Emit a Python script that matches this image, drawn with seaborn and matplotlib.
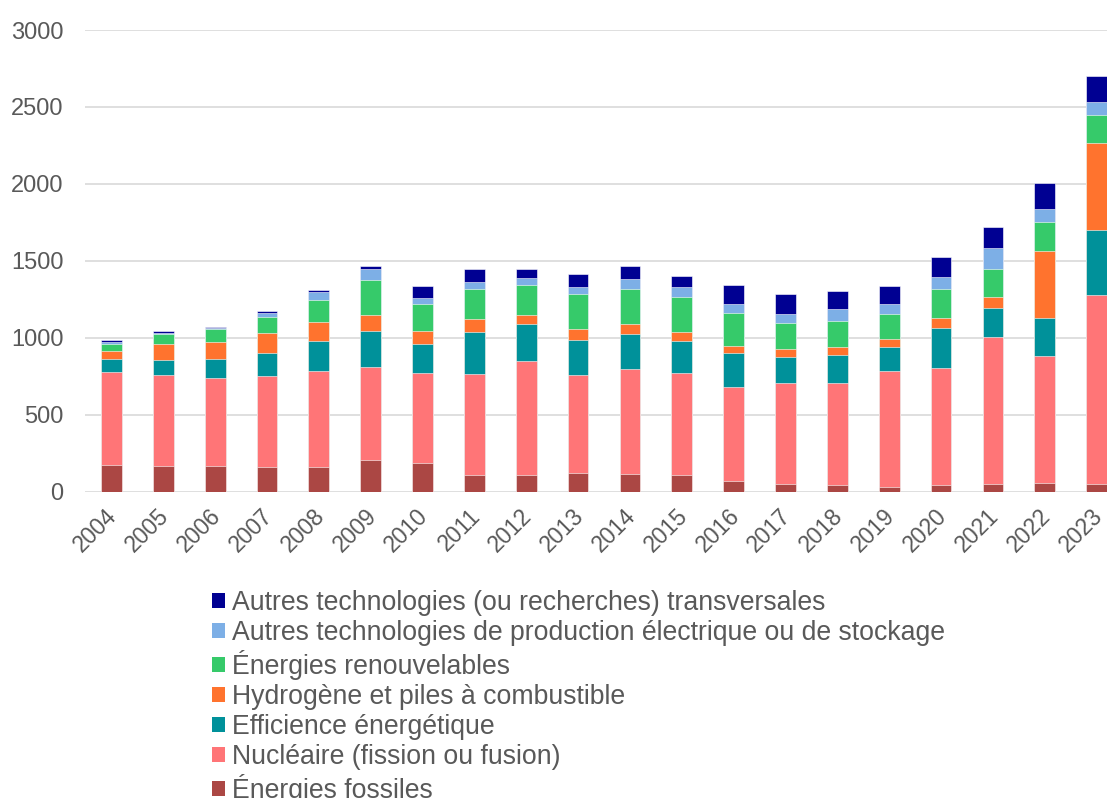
import numpy as np
import pandas as pd
import matplotlib
matplotlib.use("Agg")
import matplotlib.pyplot as plt
import matplotlib.transforms as mtransforms
import seaborn as sns
from matplotlib.patches import Patch

years = [str(y) for y in range(2004, 2024)]

fossiles = [175, 171, 169, 164, 164, 208, 190, 112, 112, 125, 119, 112, 73, 52, 43, 34, 45, 52, 56, 50]
nucleaire = [604, 589, 571, 589, 624, 606, 581, 652, 737, 635, 680, 661, 611, 654, 665, 754, 762, 956, 827, 1229]
efficience = [87, 99, 126, 152, 193, 229, 192, 277, 240, 225, 229, 208, 217, 173, 180, 152, 256, 185, 249, 424]
hydrogene = [50, 104, 110, 125, 125, 108, 82, 80, 62, 71, 61, 56, 49, 48, 52, 54, 69, 71, 431, 565]
renouvelables = [47, 65, 84, 106, 139, 228, 174, 199, 193, 230, 231, 227, 214, 172, 170, 164, 186, 186, 188, 182]
electrique = [13, 5, 5, 28, 54, 69, 39, 42, 44, 47, 65, 67, 55, 57, 76, 63, 78, 137, 85, 80]
transversales = [13, 15, 8, 11, 13, 20, 78, 84, 62, 85, 85, 72, 125, 130, 121, 115, 128, 134, 169, 173]

labels = [
    "Énergies fossiles",
    "Nucléaire (fission ou fusion)",
    "Efficience énergétique",
    "Hydrogène et piles à combustible",
    "Énergies renouvelables",
    "Autres technologies de production électrique ou de stockage",
    "Autres technologies (ou recherches) transversales",
]
colors = ["#AB4744", "#FF7577", "#00919A", "#FF732E", "#36CA6A", "#7DAFE6", "#000092"]

df = pd.DataFrame(
    dict(zip(labels, [fossiles, nucleaire, efficience, hydrogene,
                      renouvelables, electrique, transversales])),
    index=years,
)
cum = df.cumsum(axis=1)

sns.set_theme(style="white")
plt.rcParams["font.family"] = ["Liberation Sans", "DejaVu Sans"]

fig = plt.figure(figsize=(11.07, 7.98), dpi=100)
ax = fig.add_axes([0.0768, 0.3835, 0.9232, 0.5789])

# stacked bars: draw cumulative totals from the top layer down
for lab, col in reversed(list(zip(labels, colors))):
    sns.barplot(x=years, y=cum[lab].values, color=col, saturation=1,
                width=0.4, edgecolor="white", linewidth=0.4, ax=ax)

ax.set_ylim(0, 3000)
ax.set_xlim(-0.51, 19.2)
ax.set_yticks(range(0, 3001, 500))
ax.yaxis.grid(True, color="#D9D9D9", linewidth=1.2)
ax.set_axisbelow(True)
for s in ax.spines.values():
    s.set_visible(False)
ax.tick_params(axis="y", length=0, pad=15.5, labelsize=17, labelcolor="#595959")
ax.tick_params(axis="x", length=0, pad=4, labelsize=16.5, labelcolor="#595959")
shift = mtransforms.ScaledTranslation(-6 / 100, -7 / 100, fig.dpi_scale_trans)
for t in ax.get_xticklabels():
    t.set_rotation(45)
    t.set_ha("right")
    t.set_rotation_mode("anchor")
    t.set_transform(t.get_transform() + shift)
ax.set_xlabel("")
ax.set_ylabel("")

handles = [Patch(facecolor=c, edgecolor="none") for c in reversed(colors)]
fig.legend(handles, list(reversed(labels)), loc="upper left",
           bbox_to_anchor=(0.1915, 0.261), frameon=False, fontsize=19.2,
           labelcolor="#595959", handlelength=0.5, handleheight=0.5,
           handletextpad=0.25, labelspacing=0.15, borderaxespad=0, borderpad=0)

fig.savefig("out.png", dpi=100)
